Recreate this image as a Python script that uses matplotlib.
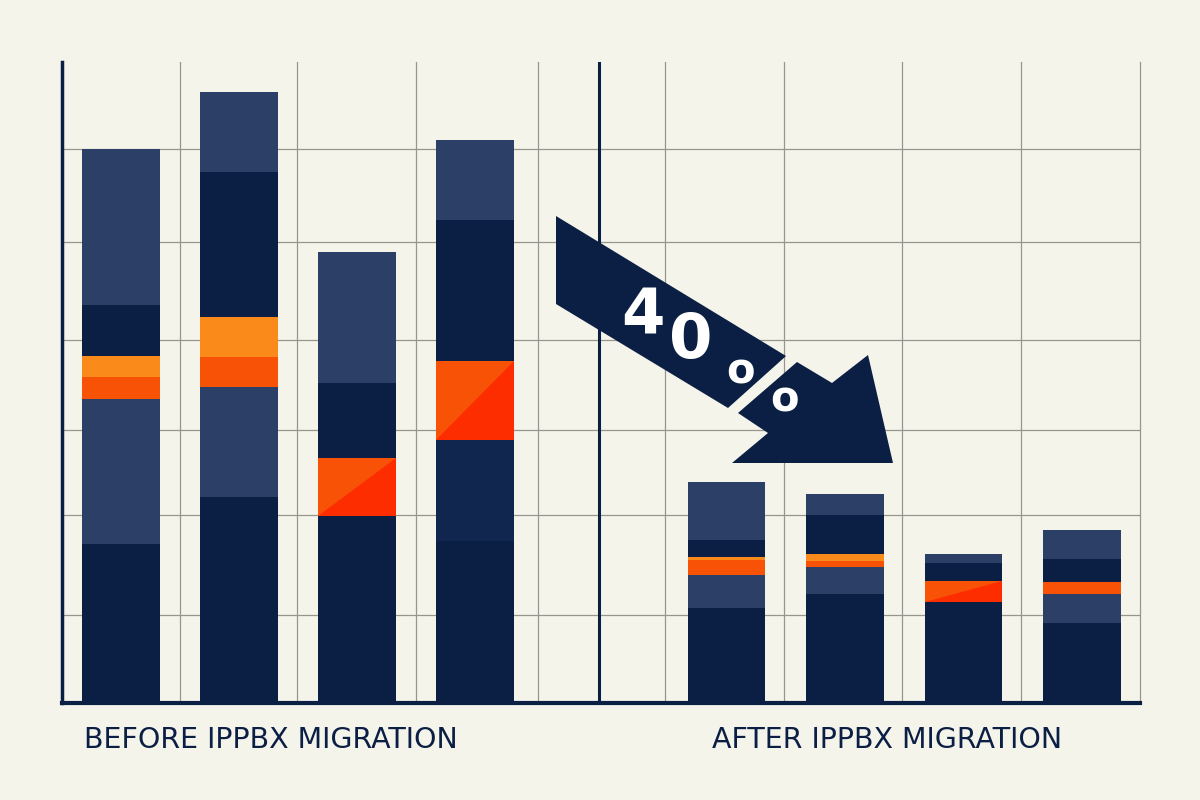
import matplotlib.pyplot as plt
import numpy as np
from matplotlib.patches import Polygon

# stacked segments, bottom to top (heights in chart units, 0-100 scale)
before_heights = [
    [24.8, 22.6, 3.4, 3.3, 8.0, 24.3],
    [32.1, 17.2, 4.7, 6.2, 22.6, 12.5],
    [29.2, 9.0, 11.7, 20.4],
    [25.3, 15.8, 12.2, 22.0, 12.5],
]
before_kinds = [
    ["D", "L", "O", "A", "D", "L"],
    ["D", "L", "O", "A", "D", "L"],
    ["D", "S", "D", "L"],
    ["D", "M", "S", "D", "L"],
]
after_heights = [
    [14.8, 5.1, 2.4, 0.4, 2.8, 8.9],
    [17.0, 4.2, 0.9, 1.1, 6.1, 3.3],
    [15.8, 3.3, 2.8, 1.4],
    [12.5, 4.5, 1.9, 3.6, 4.5],
]
after_kinds = [
    ["D", "L", "O", "A", "D", "L"],
    ["D", "L", "O", "A", "D", "L"],
    ["D", "S", "D", "L"],
    ["D", "L", "O", "D", "L"],
]
group_labels = ["BEFORE IPPBX MIGRATION", "AFTER IPPBX MIGRATION"]
drop_label = ["4", "0", "o", "o"]

bg = "#f5f4eb"
navy = "#0b1f44"
colors = {
    "D": navy,
    "L": "#2c3f66",
    "M": "#11264f",
    "A": "#fa8a1a",
    "O": "#f85206",
    "S": "#f85206",
}
red = "#fe2d00"
grid_c = "#96968f"

fig = plt.figure(figsize=(12, 8), dpi=100, facecolor=bg)
ax = fig.add_axes([62 / 1200, 97 / 800, 1078 / 1200, 641 / 800])
ax.set_facecolor(bg)

before_x = np.arange(4)
after_x = 5.13 + np.arange(4) * 1.005
width = 0.655


def draw_bar(x, heights, kinds):
    bottom = 0.0
    for h, k in zip(heights, kinds):
        ax.bar(x, h, width=width, bottom=bottom, color=colors[k],
               linewidth=0, zorder=3)
        if k == "S":
            x0, x1 = x - width / 2, x + width / 2
            tri = Polygon([(x0, bottom), (x1, bottom), (x1, bottom + h)],
                          closed=True, facecolor=red, edgecolor="none",
                          zorder=4)
            ax.add_patch(tri)
        bottom += h


for x, hs, ks in zip(before_x, before_heights, before_kinds):
    draw_bar(x, hs, ks)
for x, hs, ks in zip(after_x, after_heights, after_kinds):
    draw_bar(x, hs, ks)

ax.set_xlim(-0.5, -0.5 + 1078 / 118)
ax.set_ylim(0, 100)

# irregular grid
vgrid = [0.5, 1.49, 2.5, 3.53] + list(after_x - 0.52)
hgrid = [13.7, 29.3, 42.6, 56.6, 71.9, 86.4]
ax.set_xticks(vgrid)
ax.set_yticks(hgrid)
ax.tick_params(length=0, labelbottom=False, labelleft=False)
ax.grid(True, color=grid_c, linewidth=0.9, zorder=0)
ax.set_axisbelow(True)

ax.axvline(4.05, color=navy, linewidth=2.2, zorder=2)

ax.spines["top"].set_visible(False)
ax.spines["right"].set_color(grid_c)
ax.spines["right"].set_linewidth(0.9)
ax.spines["left"].set_color(navy)
ax.spines["left"].set_linewidth(2.5)
ax.spines["bottom"].set_color(navy)
ax.spines["bottom"].set_linewidth(3)

# overlay in pixel coordinates for the arrow annotation
ov = fig.add_axes([0, 0, 1, 1], zorder=5)
ov.set_xlim(0, 1200)
ov.set_ylim(800, 0)
ov.axis("off")
ov.patch.set_alpha(0)

shaft = [(556, 216), (786, 356), (728, 408), (556, 304)]
head = [(797, 362), (832, 383), (868, 355), (893, 463),
        (732, 463), (768, 433), (738, 413)]
ov.add_patch(Polygon(shaft, closed=True, facecolor=navy, edgecolor="none"))
ov.add_patch(Polygon(head, closed=True, facecolor=navy, edgecolor="none"))

txt_pos = [(643, 317, 45), (691, 341, 45), (740, 371, 30), (784, 400, 30)]
for s, (tx, ty, fs) in zip(drop_label, txt_pos):
    ov.text(tx, ty, s, color="white", fontsize=fs, fontweight="bold",
            ha="center", va="center", family="DejaVu Sans")

ov.text(84, 740, group_labels[0], color=navy, fontsize=20.5,
        ha="left", va="center", family="DejaVu Sans")
ov.text(712, 740, group_labels[1], color=navy, fontsize=20.5,
        ha="left", va="center", family="DejaVu Sans")

fig.savefig("out.png", dpi=100, facecolor=bg)
